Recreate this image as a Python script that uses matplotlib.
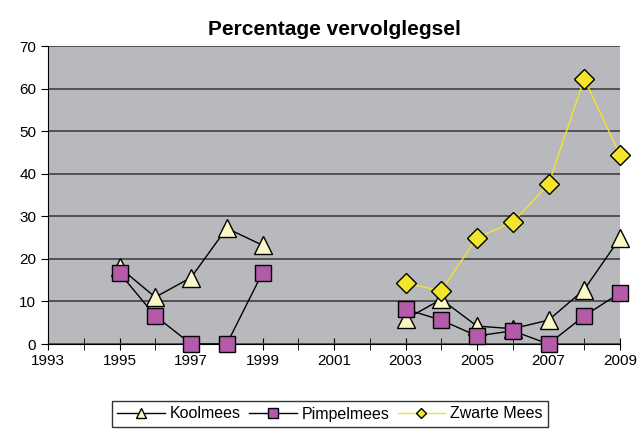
import numpy as np
import matplotlib
matplotlib.use("Agg")
import matplotlib.pyplot as plt
from matplotlib.ticker import MultipleLocator

plt.rcParams['font.family'] = ['Liberation Sans', 'DejaVu Sans']

years = [1995, 1996, 1997, 1998, 1999, 2000, 2001, 2002, 2003, 2004, 2005, 2006, 2007, 2008, 2009]
nan = np.nan
koolmees = [18.0, 11.0, 15.6, 27.2, 23.2, nan, nan, nan, 5.8, 10.5, 4.2, 3.6, 5.6, 12.8, 24.9]
pimpelmees = [16.7, 6.6, 0.0, 0.0, 16.7, nan, nan, nan, 8.2, 5.6, 1.9, 3.1, 0.0, 6.6, 12.0]
zwarte = [nan, nan, nan, nan, nan, nan, nan, nan, 14.3, 12.5, 25.0, 28.6, 37.5, 62.3, 44.4]

fig = plt.figure(figsize=(6.38, 4.30), dpi=100)
ax = fig.add_axes([48/638, 86/430, 572/638, 298/430])
ax.set_facecolor('#b8b9bd')

ax.plot(years, koolmees, color='black', lw=1, marker='^', ms=13,
        mfc='#fbf8c6', mec='black', mew=1, label='Koolmees', zorder=3, clip_on=False)
ax.plot(years, pimpelmees, color='black', lw=1, marker='s', ms=12,
        mfc='#b35aa8', mec='black', mew=1, label='Pimpelmees', zorder=4, clip_on=False)
ax.plot(years, zwarte, color='#f2e52a', lw=1, marker='D', ms=10,
        mfc='#f2e52a', mec='black', mew=1, label='Zwarte Mees', zorder=5, clip_on=False)

ax.set_xlim(1993, 2009)
ax.set_ylim(0, 70)
ax.set_xticks(range(1993, 2010, 2))
ax.xaxis.set_minor_locator(MultipleLocator(1))
ax.set_yticks(range(0, 71, 10))
ax.yaxis.grid(True, color='#4a4a4a', lw=1.3)
ax.set_axisbelow(True)
for s in ['top', 'right']:
    ax.spines[s].set_visible(False)
ax.spines['left'].set_color('black')
ax.spines['bottom'].set_color('black')
ax.tick_params(axis='both', which='both', labelsize=11, color='black')
ax.tick_params(axis='x', which='both', direction='inout', length=8, pad=3)
ax.tick_params(axis='y', direction='out', length=5)

ax.set_title('Percentage vervolglegsel', fontsize=15, fontweight='bold', pad=8)

leg = fig.legend(loc='center', bbox_to_anchor=(330/638, 1 - 414/430), ncol=3,
                 frameon=True, fancybox=False, edgecolor='black', fontsize=11.5,
                 handlelength=3.0, columnspacing=0.5, handletextpad=0.3,
                 borderpad=0.35, markerscale=0.55)
leg.get_frame().set_linewidth(1)

fig.savefig('out.png', dpi=100)
